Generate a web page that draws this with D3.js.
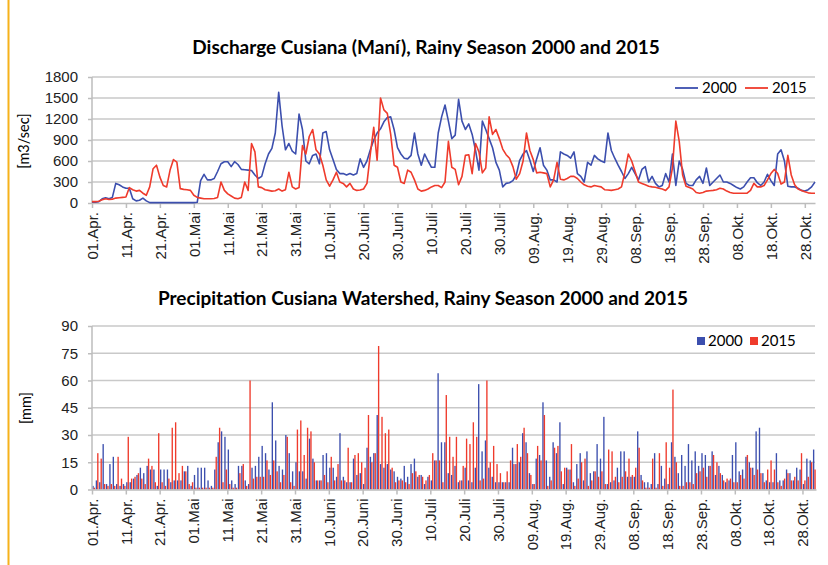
<!DOCTYPE html>
<html>
<head>
<meta charset="utf-8">
<script src="https://cdn.jsdelivr.net/npm/d3@7"></script>
<style>
  body { margin: 0; background: #fff; }
  svg { font-family: Lato, "Open Sans", sans-serif; }
  .grid line { stroke: #c9c9c9; stroke-width: 1.5; }
  .axis path, .axis line { stroke: #bdbdbd; stroke-width: 1.5; }
  .axis text { fill: #222; font-size: 15px; }
</style>
</head>
<body>
<div id="graph"></div>
<script>
// daily values 01.Apr - 31.Okt (214 days)
const tickLabels = ["01.Apr.", "11.Apr.", "21.Apr.", "01.Mai", "11.Mai", "21.Mai", "31.Mai", "10.Juni",
  "20.Juni", "30.Juni", "10.Juli", "20.Juli", "30.Juli", "09.Aug.", "19.Aug.", "29.Aug.", "08.Sep.",
  "18.Sep.", "28.Sep.", "08.Okt.", "18.Okt.", "28.Okt."];
const seriesNames = ["2000", "2015"];

// discharge [m3/sec]
const q2000 = [10, 10, 20, 60, 75, 60, 80, 280, 260, 230, 210, 210, 60, 30, 40, 70, 30, 5, 5, 5,
  5, 5, 5, 5, 5, 5, 5, 5, 5, 5, 5, 10, 320, 410, 330, 330, 350, 450, 560, 590,
  590, 520, 590, 550, 480, 475, 470, 465, 400, 350, 380, 560, 700, 780, 1000, 1580, 1100, 760, 850, 740,
  700, 1270, 1050, 600, 560, 680, 700, 560, 1000, 1020, 760, 620, 480, 420, 420, 400, 420, 400, 420, 630,
  510, 600, 760, 900, 1000, 1060, 1160, 1220, 1230, 1050, 790, 700, 640, 630, 680, 1000, 700, 540, 700, 600,
  510, 510, 1000, 1230, 1400, 1170, 920, 970, 1480, 1170, 1050, 1130, 980, 750, 470, 1170, 1050, 920, 790, 580,
  470, 230, 280, 290, 320, 400, 610, 700, 750, 610, 450, 630, 790, 540, 470, 330, 330, 300, 730, 700,
  680, 640, 730, 420, 380, 300, 580, 540, 680, 630, 600, 580, 1000, 750, 640, 540, 450, 350, 420, 510,
  420, 330, 480, 520, 300, 380, 280, 230, 250, 420, 300, 700, 250, 600, 480, 280, 250, 250, 330, 380,
  280, 500, 250, 300, 350, 400, 300, 300, 280, 250, 220, 200, 230, 300, 360, 360, 290, 250, 300, 410,
  320, 250, 700, 760, 600, 240, 230, 230, 210, 180, 170, 190, 230, 300];
const q2015 = [20, 20, 25, 45, 60, 50, 55, 70, 75, 80, 85, 220, 190, 170, 180, 140, 110, 230, 490, 540,
  370, 250, 230, 470, 620, 585, 205, 195, 190, 180, 110, 80, 70, 60, 60, 60, 65, 80, 300, 180,
  130, 100, 70, 60, 80, 300, 180, 850, 730, 230, 220, 190, 180, 170, 175, 200, 170, 190, 440, 230,
  200, 220, 820, 700, 950, 1050, 760, 700, 540, 330, 240, 330, 440, 300, 280, 230, 280, 200, 180, 185,
  200, 280, 700, 1080, 610, 1500, 1330, 1280, 980, 540, 510, 300, 280, 470, 440, 330, 200, 170, 180, 200,
  230, 250, 250, 220, 300, 880, 510, 480, 260, 380, 680, 690, 420, 850, 730, 430, 500, 1230, 980, 1050,
  920, 770, 690, 640, 520, 340, 420, 600, 1000, 750, 620, 430, 440, 430, 420, 230, 330, 580, 340, 330,
  350, 380, 380, 350, 300, 260, 240, 230, 250, 240, 230, 190, 185, 180, 190, 200, 230, 440, 700, 600,
  450, 300, 280, 260, 240, 230, 225, 210, 200, 180, 230, 500, 1170, 880, 400, 240, 220, 200, 150, 140,
  150, 170, 175, 180, 190, 210, 200, 170, 150, 140, 140, 140, 140, 140, 180, 280, 230, 230, 250, 330,
  420, 480, 420, 270, 300, 680, 400, 260, 200, 180, 160, 145, 140, 140];

// precipitation [mm]
const p2000 = [2, 5, 4, 25, 3, 14, 18, 3, 2, 3, 4, 4, 6, 8, 12, 9, 13, 11, 11, 2,
  11, 11, 11, 4, 5, 5, 5, 10, 13, 2, 8, 12, 12, 12, 5, 2, 11, 26, 32, 29,
  22, 5, 3, 13, 13, 5, 3, 12, 13, 18, 24, 20, 11, 48, 27, 13, 11, 30, 20, 10,
  15, 10, 10, 6, 28, 17, 5, 5, 19, 20, 12, 12, 7, 31, 7, 4, 4, 17, 8, 9,
  3, 23, 18, 20, 41, 14, 12, 14, 11, 10, 7, 6, 13, 7, 14, 17, 7, 8, 3, 7,
  5, 16, 64, 26, 26, 9, 8, 13, 4, 5, 12, 5, 4, 12, 58, 21, 27, 12, 7, 4,
  4, 4, 4, 4, 23, 14, 15, 31, 26, 9, 3, 17, 19, 48, 16, 7, 26, 20, 37, 3,
  12, 11, 4, 14, 20, 5, 21, 9, 10, 25, 17, 40, 3, 4, 5, 12, 21, 21, 7, 7,
  7, 32, 8, 4, 4, 3, 20, 3, 13, 6, 3, 26, 18, 9, 19, 13, 25, 16, 21, 13,
  20, 19, 13, 21, 8, 13, 8, 4, 5, 19, 26, 10, 11, 18, 15, 12, 32, 34, 9, 5,
  4, 4, 20, 5, 5, 11, 9, 5, 12, 11, 3, 17, 16, 22];
const p2015 = [1, 20, 17, 3, 2, 3, 2, 18, 6, 2, 29, 6, 7, 9, 6, 3, 17, 13, 4, 31,
  4, 2, 6, 34, 37, 9, 13, 10, 3, 4, 1, 1, 1, 1, 1, 1, 18, 34, 4, 11,
  3, 1, 1, 9, 14, 2, 60, 6, 7, 7, 7, 16, 8, 16, 10, 4, 8, 29, 4, 2,
  33, 38, 19, 34, 32, 15, 5, 5, 8, 4, 18, 5, 14, 5, 5, 23, 4, 19, 20, 15,
  12, 41, 15, 20, 79, 40, 31, 33, 12, 4, 5, 5, 4, 3, 9, 10, 8, 7, 5, 8,
  20, 16, 16, 4, 52, 29, 18, 29, 5, 13, 28, 25, 37, 29, 5, 6, 60, 15, 24, 14,
  9, 4, 10, 16, 14, 25, 18, 34, 20, 8, 3, 24, 16, 41, 2, 5, 23, 24, 10, 12,
  11, 25, 2, 6, 15, 17, 2, 5, 10, 7, 10, 3, 22, 21, 7, 4, 7, 10, 17, 8,
  12, 23, 5, 1, 1, 17, 1, 20, 2, 26, 12, 55, 15, 2, 2, 4, 4, 3, 9, 10,
  12, 7, 13, 19, 15, 9, 5, 6, 6, 4, 4, 8, 6, 19, 12, 8, 11, 9, 4, 11,
  16, 11, 4, 2, 6, 9, 5, 7, 5, 20, 5, 7, 15, 11];

const qTicks = [0, 300, 600, 900, 1200, 1500, 1800];
const pTicks = [0, 15, 30, 45, 60, 75, 90];

const w = 828;
const h = 565;
const left = 92;
const right = 815;
const blue = "#3c4fae";
const red = "#ef3b2c";

const svg = d3.select("#graph").
append("svg").
attr("width", w).
attr("height", h);

// orange frame line on the left
svg.append("line").
attr("x1", 8.5).attr("x2", 8.5).attr("y1", 0).attr("y2", h).
attr("stroke", "#f6b21b").attr("stroke-width", 2);

const tickDays = tickLabels.map((d, i) => i * 10);

// ---------- discharge ----------
const x1 = d3.scaleLinear().domain([0, q2000.length - 1]).range([left, right]);
const y1 = d3.scaleLinear().domain([0, 1800]).range([203, 77]);

svg.append("text").
attr("x", 426).attr("y", 54).
attr("text-anchor", "middle").
attr("font-weight", "bold").attr("font-size", "19px").
text("Discharge Cusiana (Maní), Rainy Season 2000 and 2015");

svg.append("g").
attr("class", "grid").
selectAll("line").
data(qTicks.slice(1)).
enter().
append("line").
attr("x1", left).attr("x2", right).
attr("y1", d => y1(d)).attr("y2", d => y1(d));

svg.append("g").
attr("class", "axis").
attr("transform", "translate(" + left + ",0)").
call(d3.axisLeft(y1).tickValues(qTicks).tickFormat(d3.format("d")).tickSize(4).tickPadding(10)).
call(g => g.select(".domain").attr("d", "M0," + y1(1800) + "V" + y1(0)));

svg.append("g").
attr("class", "axis").
attr("transform", "translate(0," + y1(0) + ")").
call(d3.axisBottom(x1).tickValues(tickDays).tickFormat((d, i) => tickLabels[i]).tickSize(5).tickSizeOuter(0)).
selectAll("text").
attr("transform", "rotate(-90)").
attr("text-anchor", "end").
attr("x", -9).attr("y", 0).attr("dy", "0.35em");

svg.append("text").
attr("transform", "translate(29,141) rotate(-90)").
attr("text-anchor", "middle").
attr("font-size", "14.5px").
text("[m3/sec]");

const line = d3.line().
x((d, i) => x1(i)).
y(d => y1(d));

[q2000, q2015].forEach((s, k) => {
  svg.append("path").
  datum(s).
  attr("fill", "none").
  attr("stroke", k === 0 ? blue : red).
  attr("stroke-width", 1.6).
  attr("stroke-linejoin", "round").
  attr("d", line);
});

const leg1 = svg.append("g").attr("font-size", "15px");
seriesNames.forEach((n, k) => {
  const lx = 675 + k * 70;
  leg1.append("line").
  attr("x1", lx).attr("x2", lx + 23).attr("y1", 88).attr("y2", 88).
  attr("stroke", k === 0 ? blue : red).attr("stroke-width", 1.8);
  leg1.append("text").
  attr("x", lx + 27).attr("y", 88).attr("dy", "0.35em").
  text(n);
});

// ---------- precipitation ----------
const x2 = d3.scaleLinear().domain([0, p2000.length]).range([left, right + 1]);
const y2 = d3.scaleLinear().domain([0, 90]).range([489.5, 326]);
const step = x2(1) - x2(0);

svg.append("text").
attr("x", 423).attr("y", 305).
attr("text-anchor", "middle").
attr("font-weight", "bold").attr("font-size", "19px").
text("Precipitation Cusiana Watershed, Rainy Season 2000 and 2015");

svg.append("g").
attr("class", "grid").
selectAll("line").
data(pTicks.slice(1)).
enter().
append("line").
attr("x1", left).attr("x2", right).
attr("y1", d => y2(d)).attr("y2", d => y2(d));

[p2000, p2015].forEach((s, k) => {
  svg.append("g").
  selectAll("rect").
  data(s).
  enter().
  append("rect").
  attr("x", (d, i) => x2(i) + step * (0.1 + 0.42 * k)).
  attr("y", d => y2(d)).
  attr("width", step * 0.4).
  attr("height", d => y2(0) - y2(d)).
  attr("fill", k === 0 ? blue : red);
});

svg.append("g").
attr("class", "axis").
attr("transform", "translate(" + left + ",0)").
call(d3.axisLeft(y2).tickValues(pTicks).tickSize(4).tickPadding(10)).
call(g => g.select(".domain").attr("d", "M0," + y2(90) + "V" + y2(0)));

svg.append("g").
attr("class", "axis").
attr("transform", "translate(0," + y2(0) + ")").
call(d3.axisBottom(x2).tickValues(tickDays).tickFormat((d, i) => tickLabels[i]).tickSize(5).tickSizeOuter(0)).
selectAll("text").
attr("transform", "rotate(-90)").
attr("text-anchor", "end").
attr("x", -9).attr("y", 0).attr("dy", "0.35em");

svg.append("text").
attr("transform", "translate(31,408) rotate(-90)").
attr("text-anchor", "middle").
attr("font-size", "14.5px").
text("[mm]");

const leg2 = svg.append("g").attr("font-size", "15px");
seriesNames.forEach((n, k) => {
  const lx = 697 + k * 53;
  leg2.append("rect").
  attr("x", lx).attr("y", 337).attr("width", 8).attr("height", 8).
  attr("fill", k === 0 ? blue : red);
  leg2.append("text").
  attr("x", lx + 11).attr("y", 341).attr("dy", "0.35em").
  text(n);
});

</script>
</body>
</html>
